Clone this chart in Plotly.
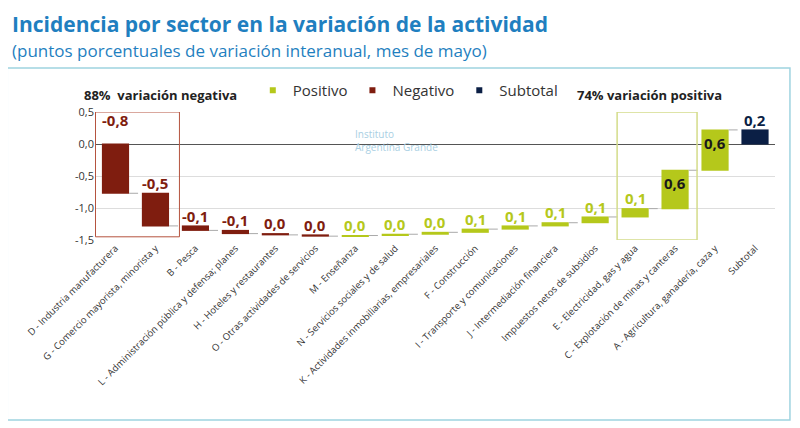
import plotly.graph_objects as go

sectores = ["D - Industria manufacturera", "G - Comercio mayorista, minorista y",
            "B - Pesca", "L - Administración pública y defensa; planes",
            "H - Hoteles y restaurantes", "O - Otras actividades de servicios",
            "M - Enseñanza", "N - Servicios sociales y de salud",
            "K - Actividades inmobiliarias, empresariales", "F - Construcción",
            "I - Transporte y comunicaciones", "J - Intermediación financiera",
            "Impuestos netos de subsidios", "E - Electricidad, gas y agua",
            "C - Explotación de minas y canteras", "A - Agricultura, ganadería, caza y",
            "Subtotal"]
valores = [-0.77, -0.51, -0.07, -0.05, -0.02, -0.02, 0.01, 0.02, 0.03, 0.05,
           0.05, 0.05, 0.09, 0.13, 0.60, 0.63, 0]
etiquetas = ["-0,8", "-0,5", "-0,1", "-0,1", "0,0", "0,0", "0,0", "0,0", "0,0",
             "0,1", "0,1", "0,1", "0,1", "0,1", "0,6", "0,6", "0,2"]

ROJO = "#7f1d0f"
VERDE = "#b5c81b"
AZUL = "#0b1f45"

medidas = ["relative"] * (len(sectores) - 1) + ["total"]
fig = go.Figure(go.Waterfall(
    x=sectores, y=valores, measure=medidas,
    increasing=dict(marker=dict(color=VERDE)),
    decreasing=dict(marker=dict(color=ROJO)),
    totals=dict(marker=dict(color=AZUL)),
    connector=dict(line=dict(color="#aaaaaa", width=1, dash="dash")),
    showlegend=False, width=0.68,
))

for nombre, color in [("Positivo", VERDE), ("Negativo", ROJO), ("Subtotal", AZUL)]:
    fig.add_trace(go.Scatter(x=[None], y=[None], mode="markers", name=nombre,
                             marker=dict(symbol="square", size=6, color=color)))

# labels above each bar
acum = 0
for i, (s, v, t) in enumerate(zip(sectores, valores, etiquetas)):
    if i == len(sectores) - 1:
        top, bottom = max(acum, 0), min(acum, 0)
        color = AZUL
    else:
        top = max(acum, acum + v)
        bottom = min(acum, acum + v)
        color = ROJO if v < 0 else VERDE
        acum += v
    big = (top - bottom) > 0.3 and v > 0
    if big:
        fig.add_annotation(x=s, y=top - 0.2, text="<b>%s</b>" % t, showarrow=False,
                           font=dict(size=15, color="#1a1a1a", family="Open Sans"))
    else:
        ytxt = 0.38 if i == 0 else top + 0.16
        fig.add_annotation(x=s, y=ytxt, text="<b>%s</b>" % t, showarrow=False,
                           font=dict(size=15, color=color, family="Open Sans"))

fig.add_shape(type="rect", x0=-0.5, x1=1.6, y0=-1.45, y1=0.5, line=dict(color="#b5533f", width=1))
fig.add_shape(type="rect", x0=12.55, x1=14.55, y0=-1.5, y1=0.5, line=dict(color="#d4dc8a", width=1.5))
fig.add_shape(type="rect", xref="paper", yref="paper", x0=-0.129, x1=1.022, y0=-1.406, y1=1.344,
              line=dict(color="#9fd3e0", width=1.5))

fig.add_annotation(xref="paper", yref="paper", x=0.096, y=1.22, xanchor="center",
                   text="<b>88%  variación negativa</b>",
                   showarrow=False, font=dict(size=13, color="#222"))
fig.add_annotation(xref="paper", yref="paper", x=0.816, y=1.22, xanchor="center",
                   text="<b>74% variación positiva</b>",
                   showarrow=False, font=dict(size=13, color="#222"))
fig.add_annotation(xref="paper", yref="paper", x=0.38, y=0.9, xanchor="left",
                   text="Instituto<br>Argentina Grande", align="left", showarrow=False,
                   font=dict(size=10, color="#a9cfe3"))
fig.add_annotation(xref="paper", yref="paper", x=-0.125, y=1.81, xanchor="left", yanchor="top",
                   text="<b>Incidencia por sector en la variación de la actividad</b>", showarrow=False,
                   font=dict(size=21, color="#1f7fc0"))
fig.add_annotation(xref="paper", yref="paper", x=-0.125, y=1.585, xanchor="left", yanchor="top",
                   text="(puntos porcentuales de variación interanual, mes de mayo)", showarrow=False,
                   font=dict(size=17, color="#1f7fc0"))

fig.update_layout(
    width=800, height=428, margin=dict(l=87, r=33, t=104, b=196, autoexpand=False),
    paper_bgcolor="white", plot_bgcolor="white",
    font=dict(family="Open Sans", color="#333"),
    legend=dict(orientation="h", x=0.46, xanchor="center", y=1.04, yanchor="bottom",
                font=dict(size=15), itemwidth=30, bgcolor="rgba(0,0,0,0)"),
    xaxis=dict(tickangle=-45, tickfont=dict(size=9.5), showgrid=False, automargin=False),
    yaxis=dict(range=[-1.5, 0.5], tickvals=[0.5, 0, -0.5, -1, -1.5], automargin=False,
               ticktext=["0,5", "0,0", "-0,5", "-1,0", "-1,5"], tickfont=dict(size=11),
               gridcolor="#dddddd", zeroline=True, zerolinecolor="#555", zerolinewidth=1),
)

fig.write_html("out.html")
